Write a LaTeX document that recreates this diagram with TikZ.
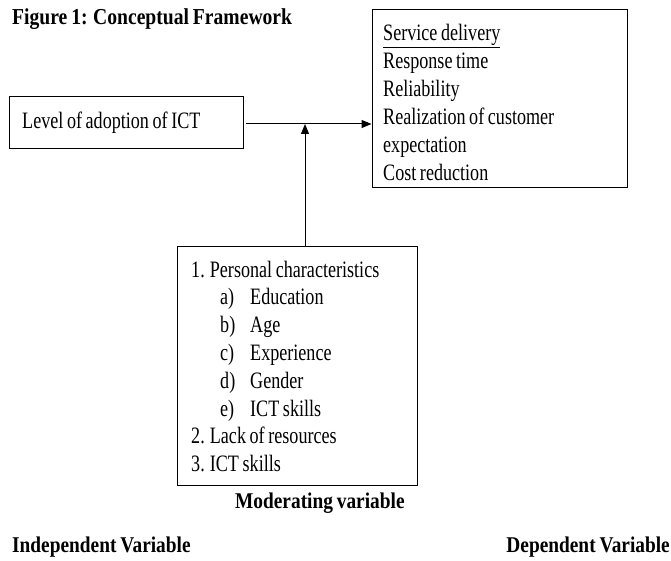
\documentclass[tikz,border=0pt]{standalone}
\usepackage{fontspec}
\setmainfont{Liberation Serif}[FakeStretch=0.77, WordSpace=0.8]
\newfontfamily\headfont{Liberation Serif}[FakeStretch=0.86, WordSpace=0.8]
\usetikzlibrary{arrows.meta}

\tikzset{
  varbox/.style={draw, line width=1pt, inner sep=0pt},
  txt/.style={anchor=base west, inner sep=0pt, font=\fontsize{23.5}{28}\selectfont},
  caption/.style={inner sep=0pt, font=\headfont\fontsize{22.5}{26}\selectfont\bfseries},
  link/.style={line width=1pt, -{Triangle[length=10pt,width=8pt]}}
}

\begin{document}
\begin{tikzpicture}[x=1pt,y=-1pt]
  \useasboundingbox (0,0) rectangle (671,561);

  \node[caption, anchor=base west, font=\headfont\fontsize{22.8}{26}\selectfont\bfseries]
    (title) at (12,25) {Figure 1: Conceptual Framework};

  % the three variable boxes
  \node[varbox, minimum width=234pt, minimum height=52pt] (indep) at (126,123) {};
  \node[varbox, minimum width=255pt, minimum height=178pt] (dep) at (499.5,99) {};
  \node[varbox, minimum width=240pt, minimum height=239pt] (mod) at (297,365.5) {};

  % independent variable
  \node[txt] (indep-1) at (22,129) {Level of adoption of ICT};

  % dependent variable
  \node[txt] (dep-1) at (383,41) {\underline{Service delivery}};
  \foreach \t [count=\i from 2] in {Response time, Reliability,
      Realization of customer, expectation, Cost reduction}
    \node[txt] (dep-\i) at (383,{41+28*(\i-1)}) {\t};

  % moderating variable
  \node[txt] (mod-1) at (191,277) {1. Personal characteristics};
  \foreach \l/\t [count=\i from 2] in {a)/Education, b)/Age, c)/Experience,
      d)/Gender, e)/ICT skills}
    \node[txt] (mod-\i) at (220,{277+27.9*(\i-1)}) {\makebox[30pt][l]{\l}\t};
  \node[txt] (mod-7) at (191,443) {2. Lack of resources};
  \node[txt] (mod-8) at (191,471.5) {3. ICT skills};

  % captions
  \node[caption, anchor=base west] (modlabel) at (235,508) {Moderating variable};
  \node[caption, anchor=base west] (indeplabel) at (12,552) {Independent Variable};
  \node[caption, anchor=base east] (deplabel) at (670,552) {Dependent Variable};

  % connectors
  \coordinate (j) at (305,124);
  \draw[link] (indep.east |- j) ++(2pt,0) -- (j -| dep.west);
  \draw[link] (mod.north -| j) -- (j);
\end{tikzpicture}
\end{document}
